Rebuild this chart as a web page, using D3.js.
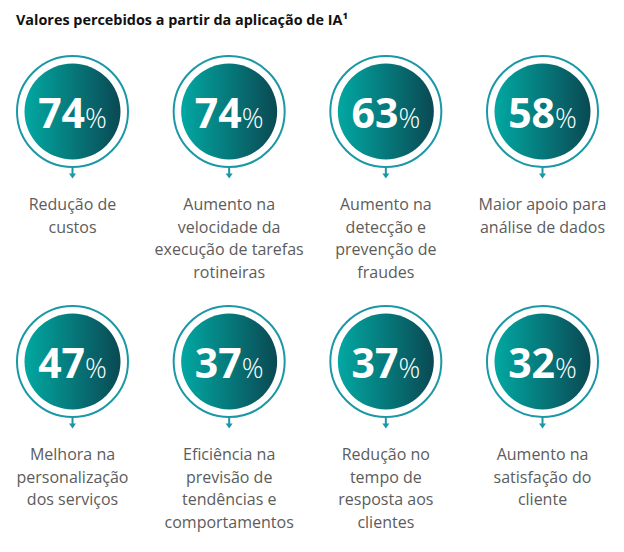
<!DOCTYPE html>
<html>
<head>
<meta charset="utf-8">
<script src="https://cdn.jsdelivr.net/npm/d3@7"></script>
<style>
  body { margin: 0; background: #fff; }
  text { font-family: "Open Sans", sans-serif; }
</style>
</head>
<body>
<div id="chart-area"></div>
<script>
// values
const values = [74, 74, 63, 58, 47, 37, 37, 32];
const labels = [
  ["Redução de", "custos"],
  ["Aumento na", "velocidade da", "execução de tarefas", "rotineiras"],
  ["Aumento na", "detecção e", "prevenção de", "fraudes"],
  ["Maior apoio para", "análise de dados"],
  ["Melhora na", "personalização", "dos serviços"],
  ["Eficiência na", "previsão de", "tendências e", "comportamentos"],
  ["Redução no", "tempo de", "resposta aos", "clientes"],
  ["Aumento na", "satisfação do", "cliente"]
];
const title = "Valores percebidos a partir da aplicação de IA¹";

const width = 624, height = 552;
const cols = 4;

let svg = d3.select("#chart-area").append("svg")
  .attr("width", width).attr("height", height);

let defs = svg.append("defs");
let grad = defs.append("linearGradient").attr("id", "fill-grad")
  .attr("x1", "0%").attr("x2", "100%").attr("y1", "0%").attr("y2", "0%");
grad.append("stop").attr("offset", "0%").attr("stop-color", "#02a8a2");
grad.append("stop").attr("offset", "100%").attr("stop-color", "#0a4953");

let x = d3.scaleLinear().domain([0, cols - 1]).range([72.5, 542.5]);
let y = d3.scaleLinear().domain([0, 1]).range([111.5, 361.5]);

svg.append("text")
  .attr("x", 16).attr("y", 25)
  .attr("font-size", 14.4).attr("font-weight", "bold").attr("fill", "#111")
  .text(title);

let items = svg.selectAll("g.item").data(values)
  .enter().append("g")
    .attr("class", "item")
    .attr("transform", (d, i) => `translate(${x(i % cols)},${y(Math.floor(i / cols))})`);

// outer ring
items.append("circle")
  .attr("r", 55.5)
  .attr("fill", "none")
  .attr("stroke", "#1a98a6")
  .attr("stroke-width", 2);

// filled disc
items.append("circle")
  .attr("r", 48)
  .attr("fill", "url(#fill-grad)");

// arrow below the ring
items.append("line")
  .attr("x1", 0).attr("x2", 0).attr("y1", 56.5).attr("y2", 64)
  .attr("stroke", "#1a98a6").attr("stroke-width", 2);
items.append("path")
  .attr("d", "M-3.5,62 L3.5,62 L0,67 Z")
  .attr("fill", "#1a98a6");

// value
let num = items.append("text")
  .attr("text-anchor", "middle")
  .attr("y", 16)
  .attr("fill", "#fff");
num.append("tspan")
  .attr("font-size", 41).attr("font-weight", "bold")
  .text(d => d);
num.append("tspan")
  .attr("font-size", 27).attr("font-weight", 300)
  .text("%");

// label lines
items.append("text")
  .attr("text-anchor", "middle")
  .attr("font-size", 16)
  .attr("fill", "#5c5c5c")
  .selectAll("tspan")
  .data((d, i) => labels[i])
  .enter().append("tspan")
    .attr("x", 0)
    .attr("y", (d, j) => 98.5 + j * 22.5)
    .text(d => d);
</script>
</body>
</html>
